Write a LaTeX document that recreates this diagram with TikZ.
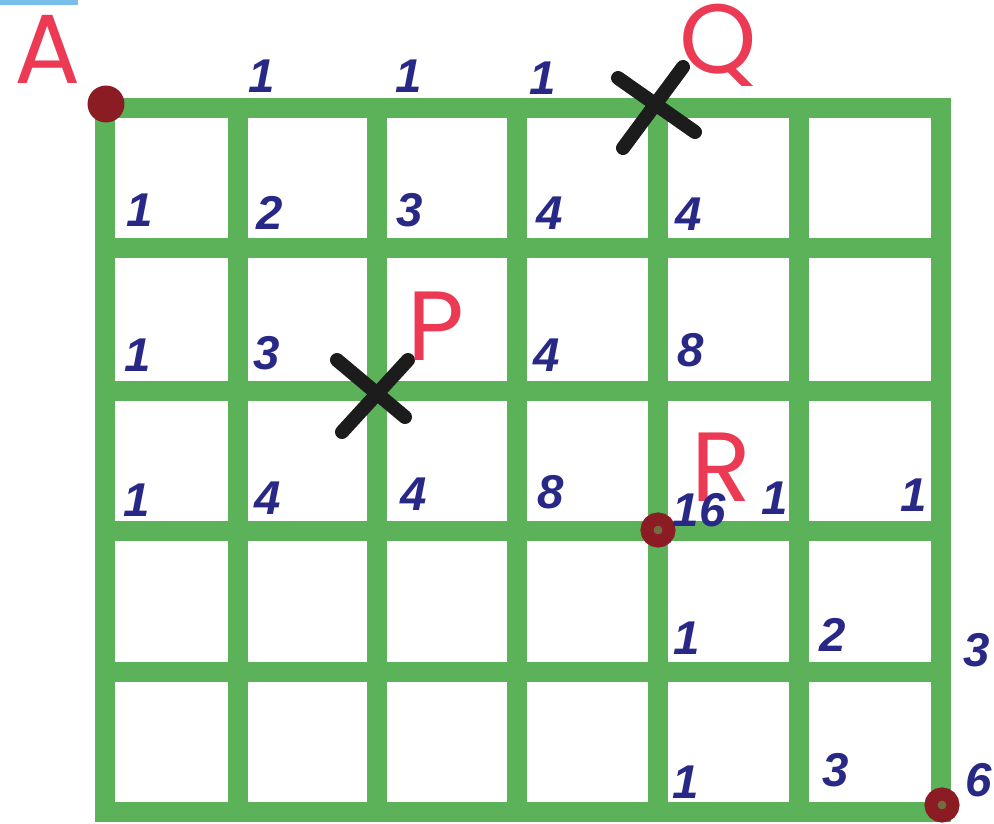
\documentclass[tikz,border=0pt]{standalone}
\usepackage{fontspec}
\setmainfont{Liberation Sans}
\newfontfamily\letterfont{Poppins}
\definecolor{gridgreen}{RGB}{92,178,88}
\definecolor{penblue}{RGB}{40,40,135}
\definecolor{letterred}{RGB}{236,58,84}
\definecolor{dotred}{RGB}{140,28,36}
\definecolor{penblack}{RGB}{28,28,28}
\definecolor{stripblue}{RGB}{120,190,235}

\begin{document}
\begin{tikzpicture}[x=0.02cm, y=-0.02cm,
    gridline/.style={gridgreen, line width=0.4cm, line cap=rect},
    num/.style={penblue, font=\bfseries\itshape\fontsize{27}{29}\selectfont, inner sep=0pt},
    letter/.style={letterred, font=\letterfont\fontsize{56}{58}\selectfont, inner sep=0pt, anchor=base},
    cross/.style={penblack, line width=0.28cm, line cap=round},
    spot/.style={circle, fill=dotred, minimum size=0.74cm, inner sep=0pt},
    ring/.style={circle, draw=dotred, line width=0.26cm, fill=dotred!45!gridgreen, minimum size=0.44cm, inner sep=0pt}]
  \useasboundingbox (0,0) rectangle (994,823);
  \fill[stripblue] (0,0) rectangle (78,5);

  % green grid, 6 columns by 5 rows
  \foreach \gx in {105,238,377,517,658,799,941}
    \draw[gridline] (\gx,108) -- (\gx,812);
  \foreach \gy in {108,248,391,531,672,812}
    \draw[gridline] (105,\gy) -- (941,\gy);

  % marked points
  \node[spot] (spotA) at (106,104) {};
  \node[ring] (spotR) at (658,530) {};
  \node[ring] (spotB) at (942,805) {};

  % blocked crossings
  \draw[cross] (618,78) -- (695,132);
  \draw[cross] (683,67) -- (623,148);
  \draw[cross] (337,360) -- (405,417);
  \draw[cross] (408,360) -- (342,432);

  % point letters
  \node[letter] (labA) at (48,83) {A};
  \node[letter] (labQ) at (718,73) {Q};
  \node[letter] (labP) at (436,360) {P};
  \node[letter] (labR) at (721,501) {R};

  % path counts, top edge
  \node[num] (t1) at (262,76) {1};
  \node[num] (t2) at (409,76) {1};
  \node[num] (t3) at (543,78) {1};

  % first row
  \node[num] (a1) at (140,210) {1};
  \node[num] (a2) at (270,213) {2};
  \node[num] (a3) at (410,210) {3};
  \node[num] (a4) at (550,213) {4};
  \node[num] (a5) at (689,214) {4};

  % second row
  \node[num] (b1) at (138,355) {1};
  \node[num] (b2) at (267,353) {3};
  \node[num] (b3) at (547,355) {4};
  \node[num] (b4) at (691,350) {8};

  % third row
  \node[num] (c1) at (137,500) {1};
  \node[num] (c2) at (268,498) {4};
  \node[num] (c3) at (414,494) {4};
  \node[num] (c4) at (551,492) {8};
  \node[num] (c5) at (699,510) {16};
  \node[num] (c6) at (775,498) {1};
  \node[num] (c7) at (914,495) {1};

  % fourth and fifth rows
  \node[num] (d1) at (687,638) {1};
  \node[num] (d2) at (833,635) {2};
  \node[num] (d3) at (977,650) {3};
  \node[num] (e1) at (686,782) {1};
  \node[num] (e2) at (836,770) {3};
  \node[num] (e3) at (979,780) {6};
\end{tikzpicture}
\end{document}
